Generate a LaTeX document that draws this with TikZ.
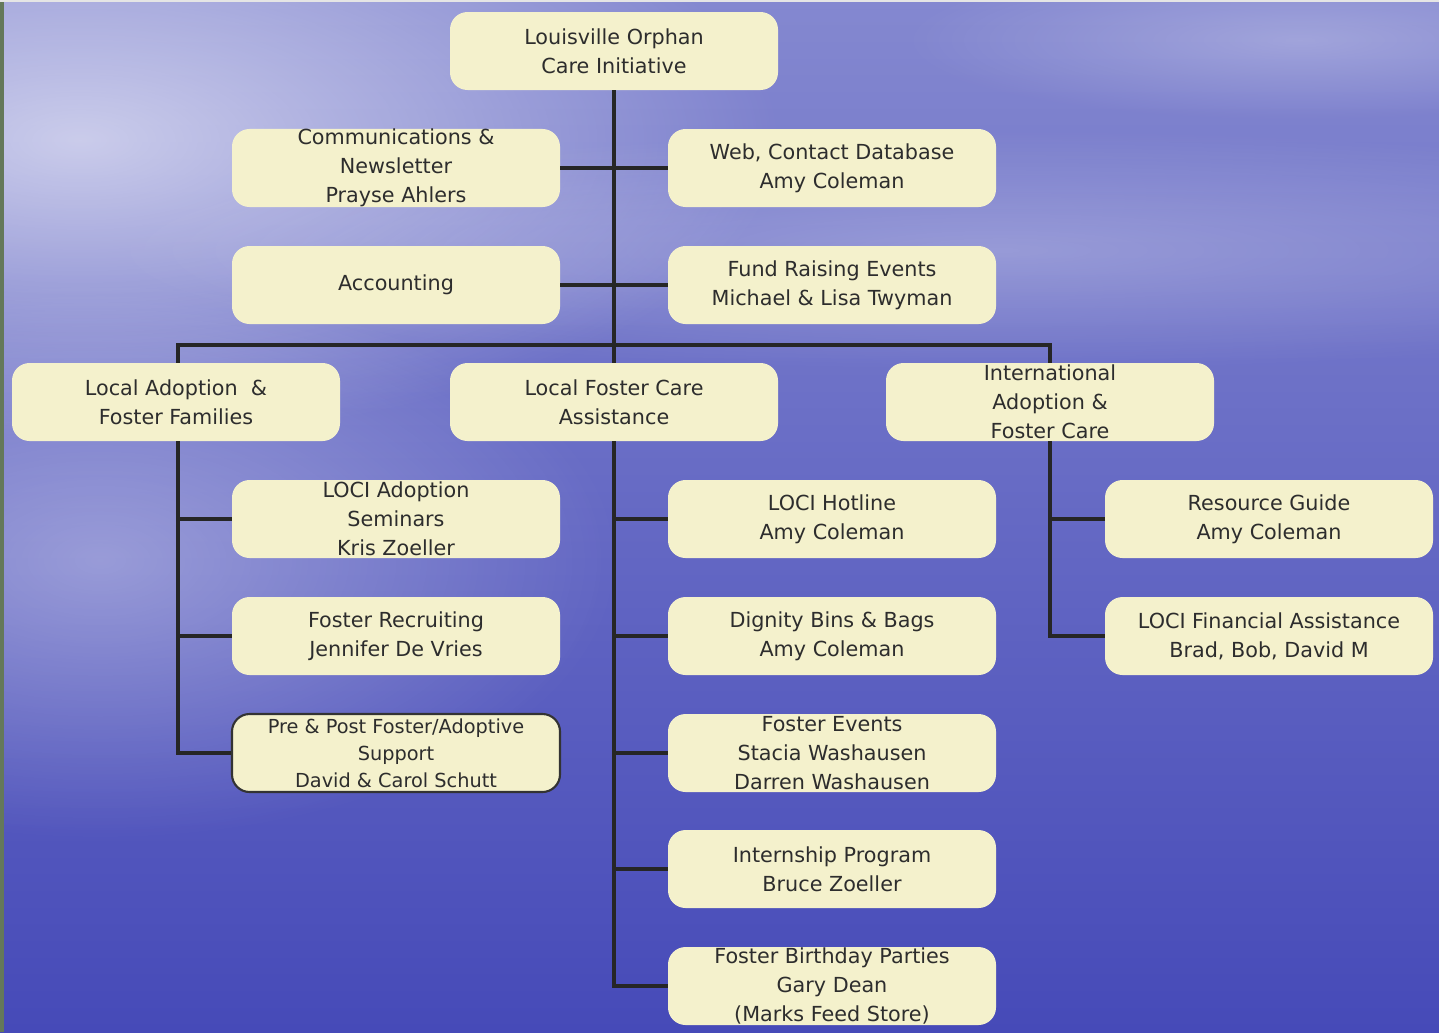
\documentclass[tikz,border=0pt]{standalone}
\usepackage{fontspec}
\setmainfont{DejaVu Sans}
\usetikzlibrary{fadings}
\definecolor{boxfill}{RGB}{244,241,204}
\definecolor{boxtext}{RGB}{45,45,45}
\definecolor{skytop}{RGB}{132,136,208}
\definecolor{skymid}{RGB}{108,112,198}
\definecolor{seabot}{RGB}{70,74,184}
\definecolor{edgegreen}{RGB}{100,120,90}
\tikzfading[name=softblob,inner color=transparent!0,outer color=transparent!100]
\tikzset{
    box/.style={fill=boxfill,rounded corners=10,minimum width=328*0.02cm,minimum height=78*0.02cm,
        inner sep=0pt,align=center,text=boxtext,font=\fontsize{11.8}{16.5}\selectfont},
    link/.style={line width=2.3pt,black!85},
    glow/.style={fill=white,path fading=softblob},
}
\begin{document}
\begin{tikzpicture}[x=0.02cm,y=-0.02cm]
            % background
            \shade[top color=skytop,middle color=skymid,bottom color=seabot] (0,0) rectangle (1439,1032);
            \begin{scope}
                \clip (0,0) rectangle (1439,1032);
                \fill[glow,opacity=0.6] (80,140) ellipse [x radius=700,y radius=300];
                \fill[glow,opacity=0.35] (100,560) ellipse [x radius=520,y radius=280];
                \fill[glow,opacity=0.25] (1000,250) ellipse [x radius=900,y radius=120];
                \fill[glow,opacity=0.25] (1300,40) ellipse [x radius=400,y radius=80];
            \end{scope}
            \fill[edgegreen] (0,0) rectangle (4,1032);
            \fill[gray!20] (0,0) rectangle (1439,2);
            \node[box] (root) at (614,51) {Louisville Orphan\\Care Initiative};
            \node[box] (comm) at (396,168) {Communications \&\\Newsletter\\Prayse Ahlers};
            \node[box] (web) at (832,168) {Web, Contact Database\\Amy Coleman};
            \node[box] (acct) at (396,285) {Accounting};
            \node[box] (fund) at (832,285) {Fund Raising Events\\Michael \& Lisa Twyman};
            \node[box] (lad) at (176,402) {Local Adoption \ \&\\Foster Families};
            \node[box] (lfc) at (614,402) {Local Foster Care\\Assistance};
            \node[box] (intl) at (1050,402) {International\\Adoption \&\\Foster Care};
            \node[box] (lads) at (396,519) {LOCI Adoption\\Seminars\\Kris Zoeller};
            \node[box] (frec) at (396,636) {Foster Recruiting\\Jennifer De Vries};
            \node[box,draw=black!80,line width=1.2pt,font=\fontsize{11}{15.4}\selectfont] (pps) at (396,753)
                {Pre \& Post Foster/Adoptive\\Support\\David \& Carol Schutt};
            \node[box] (hot) at (832,519) {LOCI Hotline\\Amy Coleman};
            \node[box] (dig) at (832,636) {Dignity Bins \& Bags\\Amy Coleman};
            \node[box] (fev) at (832,753) {Foster Events\\Stacia Washausen\\Darren Washausen};
            \node[box] (intern) at (832,869) {Internship Program\\Bruce Zoeller};
            \node[box] (bday) at (832,986) {Foster Birthday Parties\\Gary Dean\\(Marks Feed Store)};
            \node[box] (res) at (1269,519) {Resource Guide\\Amy Coleman};
            \node[box] (fin) at (1269,636) {LOCI Financial Assistance\\Brad, Bob, David M};
            \coordinate (barl) at (178,345);
            \coordinate (barr) at (1050,345);
            % connectors
            \draw[link] (root.south) -- (lfc.north);
            \draw[link] (comm.east) -- (web.west);
            \draw[link] (acct.east) -- (fund.west);
            \draw[link] (lad.north -| barl) -- (barl) -- (barr) -- (intl.north);
            \draw[link] (lad.south -| barl) |- (pps.west);
            \draw[link] (barl |- lads.west) -- (lads.west);
            \draw[link] (barl |- frec.west) -- (frec.west);
            \draw[link] (lfc.south) |- (bday.west);
            \draw[link] (lfc.south |- hot.west) -- (hot.west);
            \draw[link] (lfc.south |- dig.west) -- (dig.west);
            \draw[link] (lfc.south |- fev.west) -- (fev.west);
            \draw[link] (lfc.south |- intern.west) -- (intern.west);
            \draw[link] (intl.south) |- (fin.west);
            \draw[link] (intl.south |- res.west) -- (res.west);
\end{tikzpicture}
\end{document}
